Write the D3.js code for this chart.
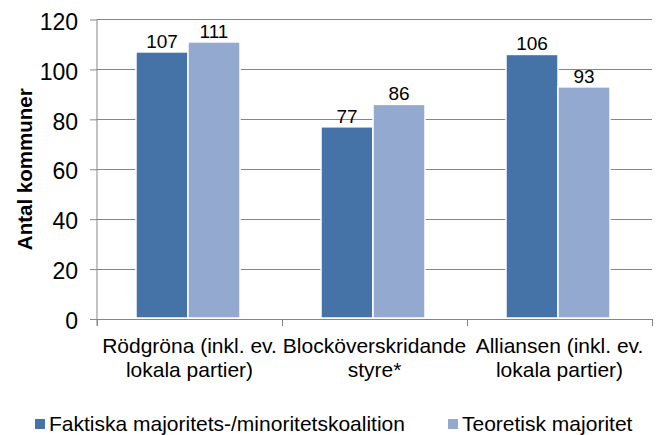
<!DOCTYPE html>
<html><head><meta charset="utf-8">
<script src="https://cdn.jsdelivr.net/npm/d3@7"></script>
<style>body{margin:0;background:#fff}svg{display:block;font-family:"Liberation Sans",Arial,sans-serif}</style>
</head><body><svg id="c" width="657" height="435"></svg>
<script>
const categories = [["Rödgröna (inkl. ev.","lokala partier)"],["Blocköverskridande","styre*"],["Alliansen (inkl. ev.","lokala partier)"]];
const seriesNames = ["Faktiska majoritets-/minoritetskoalition","Teoretisk majoritet"];
const faktiska = [107,77,106];
const teoretisk = [111,86,93];
const yTicks = [0,20,40,60,80,100,120];
const colors = ["#4572a7","#93a9cf"];

const svg = d3.select("#c");
const m = {l:97, r:652, t:19.5, b:319};
const x = d3.scaleBand().domain(d3.range(categories.length)).range([m.l,m.r]).paddingInner(0).paddingOuter(0);
const y = d3.scaleLinear().domain([0,120]).range([m.b,m.t]);
const grey = "#868686";

// gridlines
svg.append("g").selectAll("line").data(yTicks.filter(d=>d>0)).join("line")
  .attr("x1",m.l).attr("x2",m.r).attr("y1",d=>y(d)).attr("y2",d=>y(d))
  .attr("stroke",grey).attr("stroke-width",1).attr("shape-rendering","crispEdges");

// y axis
const ya = svg.append("g").attr("transform",`translate(${m.l},0)`)
  .call(d3.axisLeft(y).tickValues(yTicks).tickSize(7).tickPadding(12));
ya.select(".domain").attr("stroke",grey).attr("d",`M-0,${m.t}V${m.b+7}`);
ya.selectAll(".tick line").attr("stroke",grey);
ya.selectAll(".tick text").attr("font-size",23).attr("fill","#000").attr("font-family","Liberation Sans, Arial, sans-serif").attr("dy","0.42em");

// x axis
svg.append("line").attr("x1",m.l).attr("x2",m.r).attr("y1",m.b).attr("y2",m.b).attr("stroke",grey).attr("shape-rendering","crispEdges");
const bounds = d3.range(categories.length+1).map(i=> i<categories.length ? x(i) : x(i-1)+x.bandwidth());
svg.append("g").selectAll("line").data(bounds).join("line")
  .attr("x1",d=>d).attr("x2",d=>d).attr("y1",m.b).attr("y2",m.b+7).attr("stroke",grey).attr("shape-rendering","crispEdges");

// bars
const barW = 52;
const inner = d3.scaleBand().domain([0,1]).range([-barW, barW]).padding(0);
const series = [faktiska, teoretisk];
series.forEach((vals,si)=>{
  const g = svg.append("g");
  g.selectAll("rect").data(vals).join("rect")
    .attr("x",(d,i)=>x(i)+x.bandwidth()/2+inner(si)-1.5)
    .attr("y",d=>y(d))
    .attr("width",inner.bandwidth())
    .attr("height",d=>m.b-1-y(d))
    .attr("fill",colors[si]).attr("stroke","#fff").attr("stroke-width",1.5);
  g.selectAll("text").data(vals).join("text")
    .attr("x",(d,i)=>x(i)+x.bandwidth()/2+inner(si)-1.5+inner.bandwidth()/2)
    .attr("y",d=>y(d)-4)
    .attr("text-anchor","middle").attr("font-size",19).attr("fill","#000")
    .text(d=>d);
});

// category labels
categories.forEach((lines,i)=>{
  const t = svg.append("text").attr("text-anchor","middle").attr("font-size",21).attr("fill","#000");
  lines.forEach((ln,j)=>t.append("tspan").attr("x",x(i)+x.bandwidth()/2).attr("y",353+j*24).text(ln));
});

// y title
svg.append("text").attr("transform",`translate(32,${(m.t+m.b)/2}) rotate(-90)`)
  .attr("text-anchor","middle").attr("font-size",20.5).attr("font-weight","bold").attr("fill","#000")
  .text("Antal kommuner");

// legend
const legX = [35,448];
seriesNames.forEach((n,i)=>{
  svg.append("rect").attr("x",legX[i]).attr("y",419).attr("width",10).attr("height",10).attr("fill",colors[i]);
  svg.append("text").attr("x",legX[i]+14).attr("y",430.5).attr("font-size",21).attr("fill","#000").text(n);
});
</script></body></html>
